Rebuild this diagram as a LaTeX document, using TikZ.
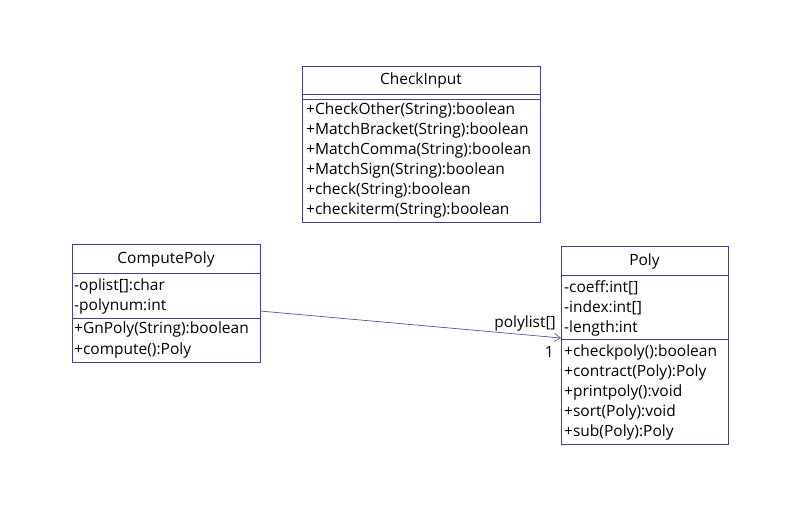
\documentclass[tikz,border=0pt]{standalone}
\usepackage{fontspec}
\setmainfont{Open Sans}
\usetikzlibrary{arrows.meta}
\definecolor{umlc}{RGB}{72,61,139}
\definecolor{linkc}{RGB}{90,80,170}
\begin{document}
\begin{tikzpicture}[x=1pt,y=-1pt,
  box/.style={draw=umlc, line width=0.8pt, inner sep=0pt, anchor=north west},
  sep/.style={draw=umlc, line width=0.8pt},
  txt/.style={anchor=west, inner sep=0pt, font=\fontsize{15.5}{18}\selectfont, text=black},
  ttl/.style={inner sep=0pt, font=\fontsize{15.5}{18}\selectfont, text=black}]
\useasboundingbox (0,0) rectangle (804,523);
% CheckInput
\node[box, minimum width=238pt, minimum height=156pt] (ci) at (302,66) {};
\node[ttl] (cit) at (421,80) {CheckInput};
\draw[sep] (302,94) -- (540,94);
\draw[sep] (302,99) -- (540,99);
\node[txt] (ci1) at (306,110) {+CheckOther(String):boolean};
\node[txt] (ci2) at (306,130) {+MatchBracket(String):boolean};
\node[txt] (ci3) at (306,150) {+MatchComma(String):boolean};
\node[txt] (ci4) at (306,170) {+MatchSign(String):boolean};
\node[txt] (ci5) at (306,190) {+check(String):boolean};
\node[txt] (ci6) at (306,210) {+checkiterm(String):boolean};
% ComputePoly
\node[box, minimum width=188pt, minimum height=118pt] (cp) at (72,244) {};
\node[ttl] (cpt) at (166,259) {ComputePoly};
\draw[sep] (72,273) -- (260,273);
\draw[sep] (72,318) -- (260,318);
\node[txt] (cp1) at (74,286) {-oplist[]:char};
\node[txt] (cp2) at (74,306) {-polynum:int};
\node[txt] (cp3) at (74,329) {+GnPoly(String):boolean};
\node[txt] (cp4) at (74,350) {+compute():Poly};
% Poly
\node[box, minimum width=167pt, minimum height=198pt] (p) at (561,246) {};
\node[ttl] (pt) at (644.5,261) {Poly};
\draw[sep] (561,275) -- (728,275);
\draw[sep] (561,339) -- (728,339);
\node[txt] (p1) at (564,288) {-coeff:int[]};
\node[txt] (p2) at (564,308) {-index:int[]};
\node[txt] (p3) at (564,328) {-length:int};
\node[txt] (p4) at (564,352) {+checkpoly():boolean};
\node[txt] (p5) at (564,372) {+contract(Poly):Poly};
\node[txt] (p6) at (564,392) {+printpoly():void};
\node[txt] (p7) at (564,412) {+sort(Poly):void};
\node[txt] (p8) at (564,432) {+sub(Poly):Poly};
% association
\coordinate (s) at (260,311);
\coordinate (e) at (561,338);
\draw[linkc, line width=0.7pt, -{Straight Barb[length=6pt,width=8pt]}] (s) -- (e);
\node[ttl, anchor=east] (lab) at (556,323) {polylist[]};
\node[ttl, anchor=east] (mul) at (554,352) {1};
\end{tikzpicture}
\end{document}
